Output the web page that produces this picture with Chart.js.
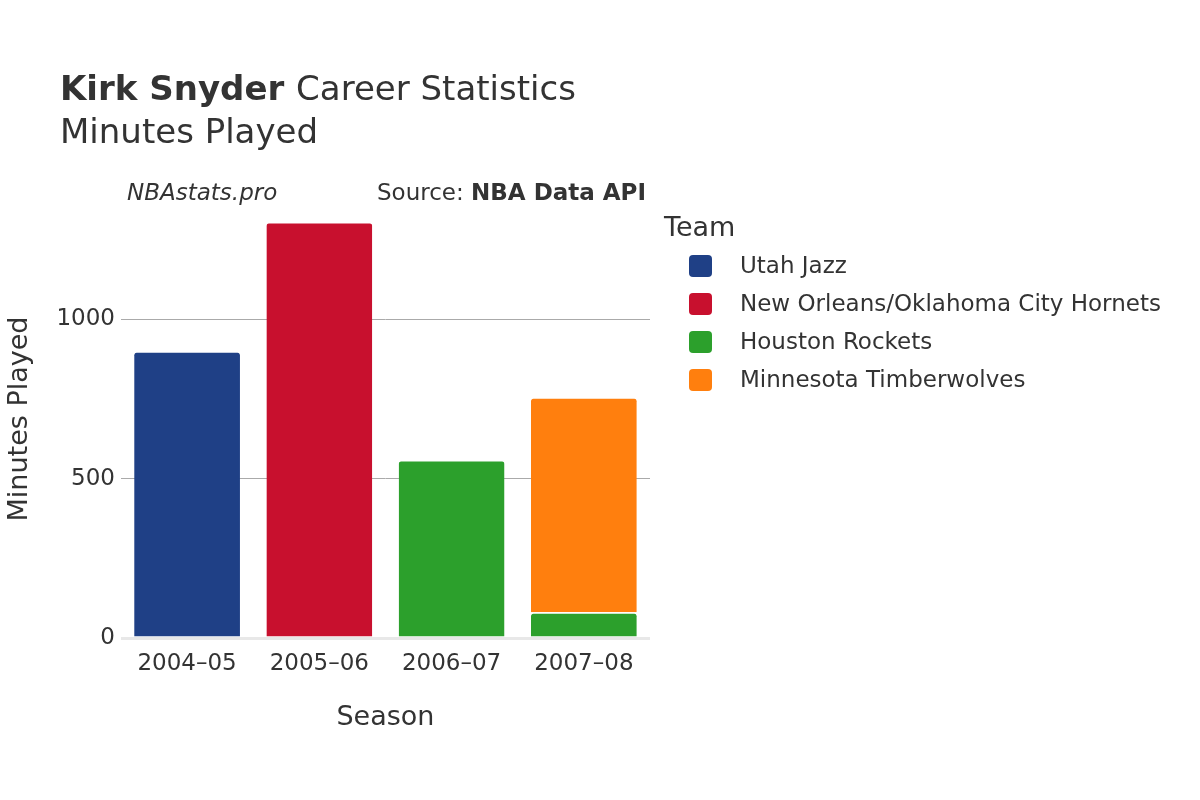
<!DOCTYPE html>
<html><head><meta charset="utf-8">
<script src="https://cdn.jsdelivr.net/npm/chart.js@4"></script>
<style>html,body{margin:0;padding:0;background:#fff}#c{display:block}</style>
</head><body>
<div style="width:1200px;height:800px"><canvas id="c" width="1200" height="800"></canvas></div>
<script>
const seasons = ["2004–05","2005–06","2006–07","2007–08"];
const teams = ["Utah Jazz","New Orleans/Oklahoma City Hornets","Houston Rockets","Minnesota Timberwolves"];
const colors = ["#1f4086","#c8102e","#2ca02c","#ff7f0e"];
const utah = [900,null,null,null];
const hornets = [null,1306,null,null];
const rockets = [null,null,559,81];
const wolves = [null,null,null,675];
const yTicks = [0,500,1000];
const series = [utah,hornets,rockets,wolves];
const F = "'DejaVu Sans', sans-serif";
const deco = {
  id:'deco',
  afterDraw(chart){
    const ctx = chart.ctx; ctx.save();
    ctx.fillStyle='#333'; ctx.textBaseline='alphabetic'; ctx.textAlign='left';
    ctx.font="bold 34px "+F; ctx.fillText("Kirk Snyder",60,100);
    const w = ctx.measureText("Kirk Snyder ").width;
    ctx.font="34px "+F; ctx.fillText("Career Statistics",60+w,100);
    ctx.fillText("Minutes Played",60,143);
    ctx.font="italic 23px "+F; ctx.fillText("NBAstats.pro",127,200);
    ctx.textAlign='right'; ctx.font="bold 23px "+F; ctx.fillText("NBA Data API",646,200);
    const bw = ctx.measureText("NBA Data API").width;
    ctx.font="23px "+F; ctx.fillText("Source: ",646-bw,200);
    ctx.textAlign='left'; ctx.font="27px "+F; ctx.fillText("Team",664,236);
    ctx.font="23px "+F;
    chart.data.datasets.forEach((d,i)=>{
      const y = 266+i*38;
      ctx.fillStyle=d.backgroundColor;
      ctx.beginPath(); ctx.roundRect(689,y-11,23,22,4); ctx.fill();
      ctx.fillStyle='#333'; ctx.textBaseline='middle'; ctx.fillText(d.label,740,y+1);
    });
    ctx.restore();
  }
};
new Chart(document.getElementById('c'),{
  type:'bar',
  data:{labels:seasons,datasets:teams.map((t,i)=>({label:t,data:series[i],backgroundColor:colors[i],borderColor:'#fff',borderWidth:{top:1.5,left:0,right:0,bottom:0},borderRadius:{topLeft:4,topRight:4,bottomLeft:0,bottomRight:0},borderSkipped:false,categoryPercentage:0.8,barPercentage:1,skipNull:true}))},
  options:{
    responsive:false,animation:false,
    layout:{padding:{left:0,right:550,top:200,bottom:62}},
    plugins:{legend:{display:false},tooltip:{enabled:false}},
    scales:{
      x:{stacked:true,grid:{display:false},border:{display:false},
        ticks:{color:'#333',font:{family:F,size:23},padding:4},
        title:{display:true,text:'Season',color:'#333',font:{family:F,size:27},padding:{top:20}}},
      y:{stacked:true,min:0,max:1375,afterBuildTicks(a){a.ticks=yTicks.map(v=>({value:v}));},
        grid:{color:c=>c.tick&&c.tick.value===0?'#e8e8e8':'#aaa',lineWidth:c=>c.tick&&c.tick.value===0?3:1,drawTicks:false},
        border:{display:false},
        ticks:{color:'#333',font:{family:F,size:23},padding:6,callback:v=>String(v)},
        title:{display:true,text:'Minutes Played',color:'#333',font:{family:F,size:27},padding:{bottom:14}}}
    }
  },
  plugins:[deco]
});
</script></body></html>
